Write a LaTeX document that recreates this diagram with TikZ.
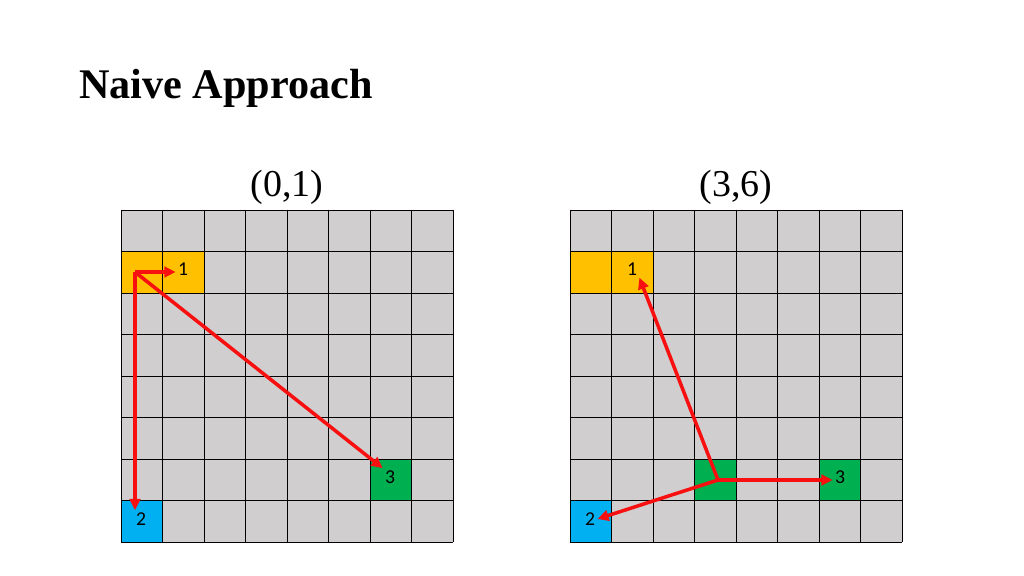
\documentclass[tikz,border=0pt]{standalone}
\usepackage{fontspec}
\setmainfont{Liberation Serif}
\newfontfamily\cellfont{Carlito}
\usepackage{tikz}
\usetikzlibrary{arrows.meta}
\definecolor{cellgray}{HTML}{D0CECE}
\definecolor{gold}{HTML}{FFC000}
\definecolor{leaf}{HTML}{00B050}
\definecolor{sky}{HTML}{00B0F0}
\definecolor{arrowred}{HTML}{F81010}
\tikzset{heading/.style={font=\bfseries\fontsize{30}{36}\selectfont,anchor=base west,inner sep=0pt},
    caption/.style={font=\fontsize{27}{32}\selectfont,anchor=base,inner sep=0pt},
    num/.style={font=\cellfont\fontsize{14}{16}\selectfont,inner sep=1.5pt},
    gridline/.style={draw=black,line width=0.7pt},
    move/.style={draw=arrowred,line width=2.5pt,-{Triangle[length=8pt,width=7.5pt]}}}

\begin{document}
\begin{tikzpicture}[x=0.025cm,y=-0.025cm]
    \useasboundingbox (0,0) rectangle (1024,576);
    \node[heading] (title) at (79,99) {Naive Approach};
    \node[caption] (left) at (287,197) {(0,1)};
    \node[caption] (right) at (736,197) {(3,6)};
    % boards
    \foreach \x in {121,570} {
        \fill[cellgray] (\x,210) rectangle ({\x+332},542);
        \fill[gold] (\x,251.5) rectangle ({\x+83},293);
        \fill[sky] (\x,500.5) rectangle ({\x+41.5},542);
    }
    \fill[leaf] (370,459) rectangle (411.5,500.5);
    \fill[leaf] (694.5,459) rectangle (736,500.5);
    \fill[leaf] (819,459) rectangle (860.5,500.5);
    \foreach \x in {121,570} {
        \foreach \i in {0,...,8} {
            \draw[gridline] ({\x+41.5*\i},210) -- ({\x+41.5*\i},542);
            \draw[gridline] (\x,{210+41.5*\i}) -- ({\x+332},{210+41.5*\i});
        }
    }
    % labels
    \node[num] (a1) at (183,269) {1};
    \node[num] (a2) at (141,519) {2};
    \node[num] (a3) at (390,477) {3};
    \node[num] (b1) at (632,269) {1};
    \node[num] (b2) at (590,519) {2};
    \node[num] (b3) at (840,477) {3};
    \coordinate (a0) at (135,272);
    \coordinate (b0) at (718,480);
    % moves
    \draw[move] (a0) -- (a0 -| a1.west);
    \draw[move] (a0) -- (a0 |- a2.north);
    \draw[move] (a0) -- (a3.north west);
    \draw[move] (b0) -- (b1.south east);
    \draw[move] (b0) -- (b2.east);
    \draw[move] (b0) -- (b0 -| b3.west);
\end{tikzpicture}
\end{document}
